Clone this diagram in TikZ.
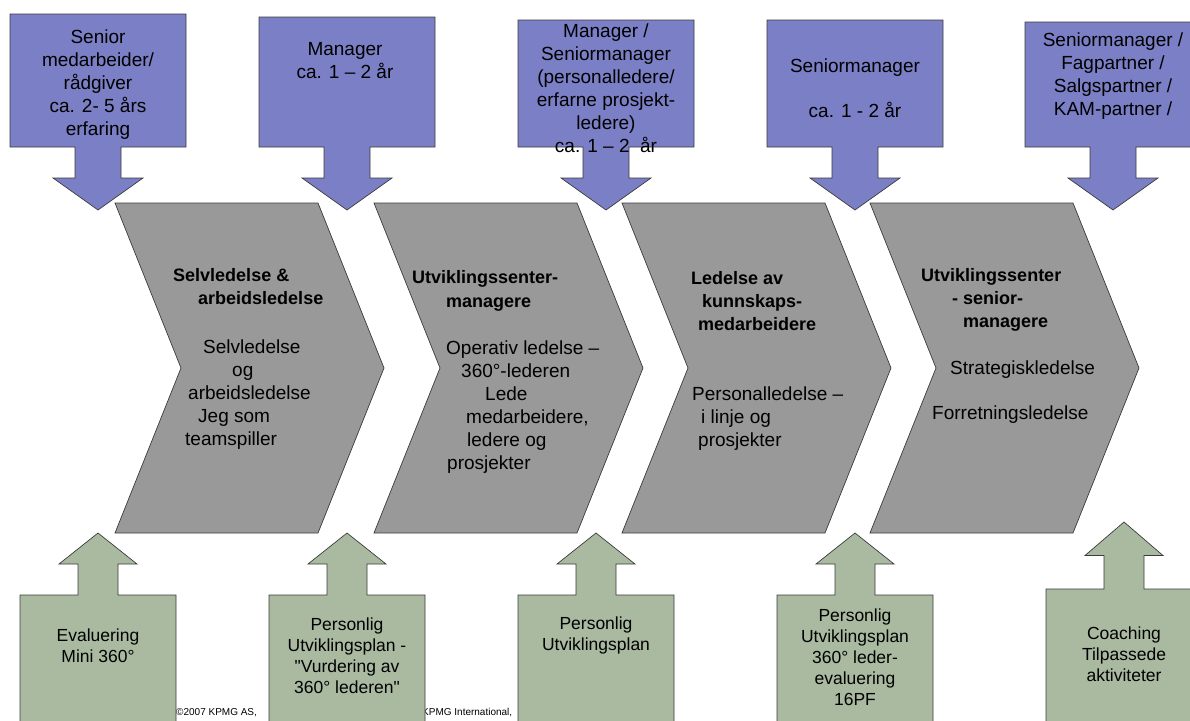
\documentclass[tikz,border=0pt]{standalone}
\usepackage{fontspec}
\setmainfont{Liberation Sans}

\definecolor{lilac}{RGB}{123,127,197}
\definecolor{chevgrey}{RGB}{153,153,153}
\definecolor{sage}{RGB}{169,186,161}
\definecolor{rim}{RGB}{60,60,60}
% straight double quote, past the TeX mapping
\newcommand{\sq}{\XeTeXglyph\XeTeXcharglyph"22\relax}

\begin{document}
\begin{tikzpicture}
	[x=1pt,y=-1pt,
	 phase/.style={fill=chevgrey,draw=rim,line width=0.7pt},
	 rolebox/.style={fill=lilac,draw=rim,line width=0.7pt},
	 toolbox/.style={fill=sage,draw=rim,line width=0.7pt},
	 roletext/.style={font=\fontsize{19}{23}\selectfont,align=center,inner sep=0pt},
	 headtext/.style={font=\fontsize{18}{23}\selectfont\bfseries,align=left,anchor=base west,inner sep=0pt},
	 bodytext/.style={font=\fontsize{19}{23}\selectfont,align=left,anchor=base west,inner sep=0pt},
	 tooltext/.style={font=\fontsize{17.5}{21}\selectfont,align=center,inner sep=0pt},
	 foottext/.style={font=\fontsize{10}{12}\selectfont,anchor=base west,inner sep=0pt}]
\useasboundingbox (0,0) rectangle (1190,720);
% footer, mostly hidden behind the green boxes
\node[foottext] (copy) at (176,715) {\textcopyright 2007 KPMG AS,};
\node[foottext] (intl) at (422,715) {KPMG International,};
% the four phases
\foreach \x in {115,374,622,870}
\draw[phase] (\x,203) -- ++(203,0) -- ++(66,165) -- ++(-66,165) -- ++(-203,0) -- ++(66,-165) -- cycle;
% roles, coming in from above
\foreach \c/\t in {98/14,347/17,606/20,855/20,1113/22}
\draw[rolebox] (\c-88,\t) -- (\c+88,\t) -- (\c+88,147) -- (\c+23,147) -- (\c+23,178)
	-- (\c+45,178) -- (\c,210) -- (\c-45,178) -- (\c-23,178) -- (\c-23,147) -- (\c-88,147) -- cycle;
% tools, coming in from below
\foreach \c/\t/\b in {98/533/595,347/533/595,596/533/595,855/533/595,1124/522/589}
\draw[toolbox] (\c,\t) -- ({\c+39},{(\t+\b)/2}) -- ({\c+20},{(\t+\b)/2}) -- (\c+20,\b) -- (\c+78,\b)
	-- (\c+78,730) -- (\c-78,730) -- (\c-78,\b) -- (\c-20,\b) -- ({\c-20},{(\t+\b)/2}) -- ({\c-39},{(\t+\b)/2}) -- cycle;

\node[roletext] (r1) at (98,85) {Senior\\medarbeider/\\rådgiver\\ca. 2- 5 års\\erfaring};
\node[roletext] (r2) at (345,61) {Manager\\ca. 1 – 2 år};
\node[roletext] (r3) at (606,88) {Manager /\\Seniormanager\\(personalledere/\\erfarne prosjekt-\\ledere)\\ca. 1 – 2\ \ år};
\node[roletext] (r4) at (855,88) {Seniormanager\\[22pt]ca. 1 - 2 år};
\node[roletext] (r5) at (1113,76) {Seniormanager /\\Fagpartner /\\Salgspartner /\\KAM-partner /};

% base = baseline of the last line
\node[headtext] (h1) at (173,304) {Selvledelse \&\\\hspace*{25pt}arbeidsledelse};
\node[bodytext] (t1) at (185,445) {\hspace*{18pt}Selvledelse\\\hspace*{47pt}og\\\hspace*{3pt}arbeidsledelse\\\hspace*{13pt}Jeg som\\teamspiller};
\node[headtext] (h2) at (412,307) {Utviklingssenter-\\[1pt]\hspace*{34pt}managere};
\node[bodytext] (t2) at (446,469) {Operativ ledelse –\\\hspace*{15pt}360°-lederen\\\hspace*{39pt}Lede\\\hspace*{20pt}medarbeidere,\\\hspace*{21pt}ledere og\\\hspace*{1pt}prosjekter};
\node[headtext] (h3) at (691,330) {Ledelse av\\\hspace*{11pt}kunnskaps-\\\hspace*{7pt}medarbeidere};
\node[bodytext] (t3) at (692,446) {Personalledelse –\\\hspace*{9pt}i linje og\\\hspace*{6pt}prosjekter};
\node[headtext] (h4) at (921,327) {Utviklingssenter\\\hspace*{31pt}- senior-\\\hspace*{42pt}managere};
\node[bodytext] (t4) at (932,419) {\hspace*{18pt}Strategiskledelse\\[22pt]Forretningsledelse};

\node[tooltext] (g1) at (98,646) {Evaluering\\Mini 360°};
\node[tooltext] (g2) at (347,656) {Personlig\\Utviklingsplan -\\\sq Vurdering av\\360° lederen\sq};
\node[tooltext] (g3) at (596,635) {Personlig\\Utviklingsplan};
\node[tooltext] (g4) at (855,657) {Personlig\\Utviklingsplan\\360° leder-\\evaluering\\16PF};
\node[tooltext] (g5) at (1124,654) {Coaching\\Tilpassede\\aktiviteter};
\end{tikzpicture}
\end{document}
